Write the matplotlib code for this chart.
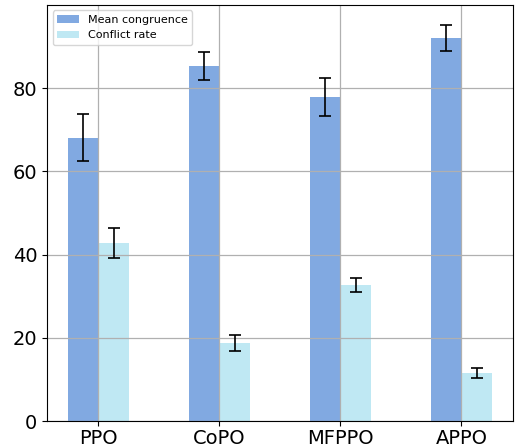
import numpy as np
import matplotlib.pyplot as plt

methods = ["PPO", "CoPO", "MFPPO", "APPO"]
mean_congruence = [68.1, 85.3, 77.9, 92.1]
mean_err = [5.6, 3.4, 4.5, 3.1]
conflict_rate = [42.8, 18.7, 32.7, 11.6]
conflict_err = [3.7, 1.9, 1.6, 1.2]

x = np.arange(len(methods))
width = 0.25

fig, ax = plt.subplots(figsize=(5.16, 4.48), dpi=100)
ax.bar(x - width / 2, mean_congruence, width, yerr=mean_err, capsize=4,
       color="#81a9e1", label="Mean congruence",
       error_kw=dict(elinewidth=1.2, capthick=1.2))
ax.bar(x + width / 2, conflict_rate, width, yerr=conflict_err, capsize=4,
       color="#bfe8f3", label="Conflict rate",
       error_kw=dict(elinewidth=1.2, capthick=1.2))

ax.set_xticks(x)
ax.set_xticklabels(methods)
ax.set_ylim(0, 100)
ax.set_yticks([0, 20, 40, 60, 80])
ax.tick_params(labelsize=14)
ax.tick_params(axis="x", pad=2)
ax.grid(True, color="#b0b0b0", linewidth=0.9)
ax.legend(loc="upper left", fontsize=8)

plt.subplots_adjust(left=0.091, right=0.994, top=0.989, bottom=0.06)
plt.savefig("out.png")
